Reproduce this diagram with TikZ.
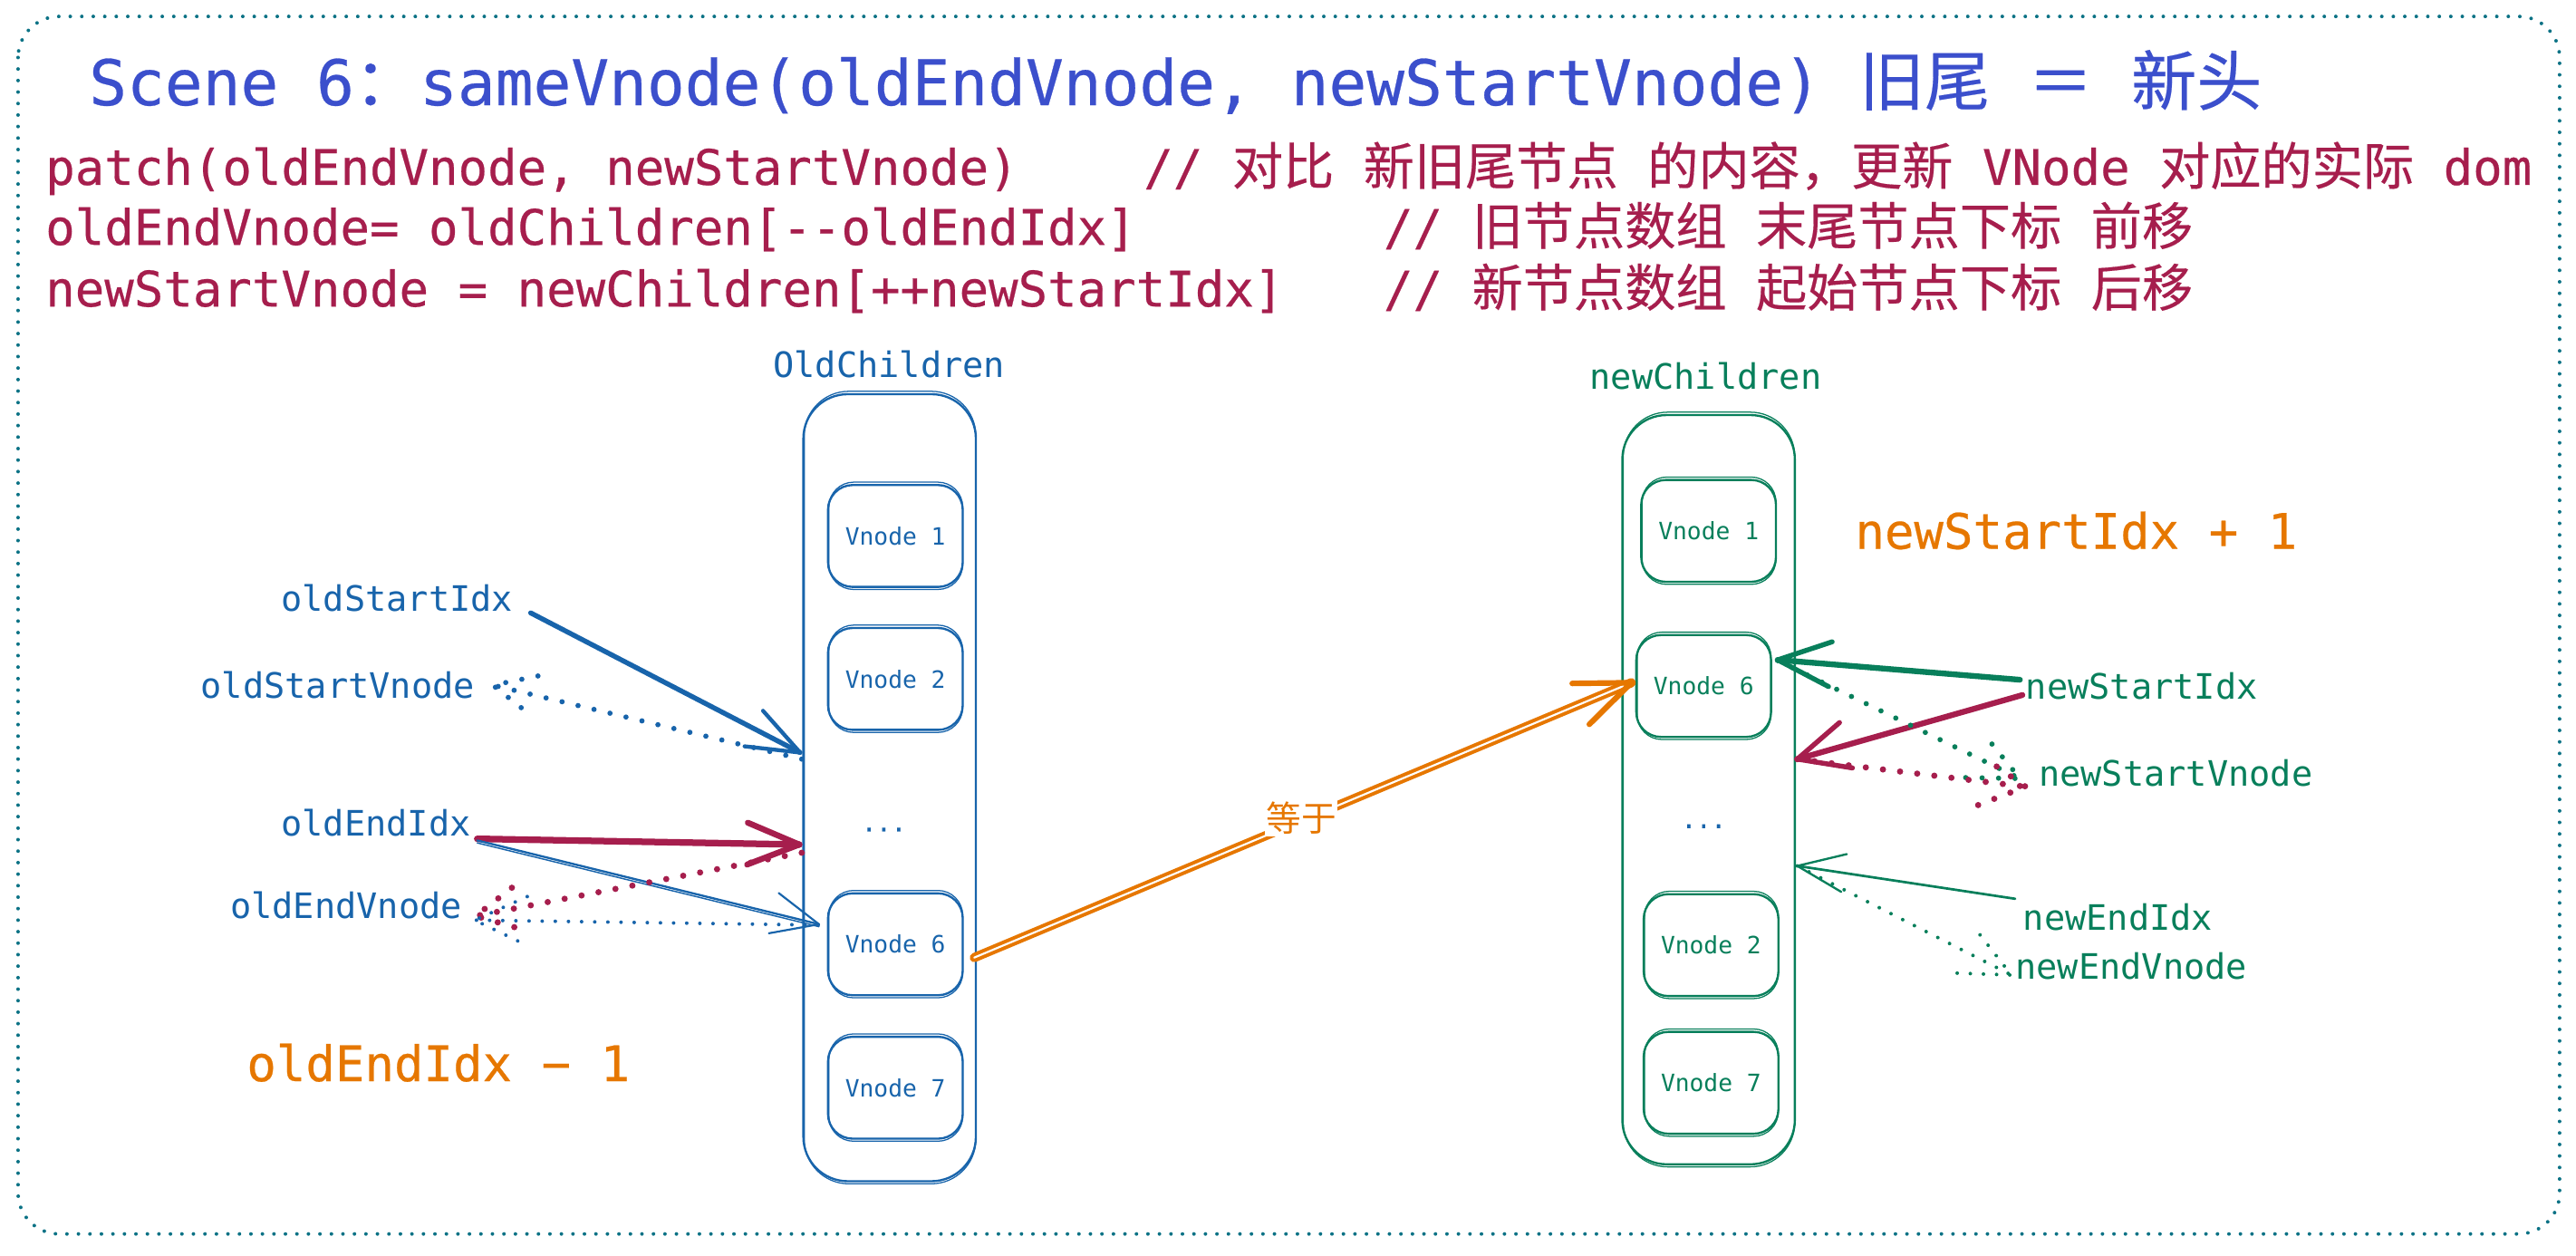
\documentclass[tikz,border=0pt]{standalone}
\usepackage{fontspec}
\setmainfont{DejaVu Sans Mono}
\newfontfamily\heavy{DejaVu Sans Mono}[FakeBold=0.4]
\newfontfamily\cjk{Noto Sans CJK SC}[Scale=1.04]
\newfontfamily\heavycjk{Noto Sans CJK SC}[Scale=1.04,FakeBold=0.3]
\usetikzlibrary{calc}
\newcommand\zh[1]{{\cjk #1}}
\newcommand\hz[1]{{\heavycjk #1}}
\newcommand\vh[5]{\draw[#5] ($(#1)!#3!#4:(#2)$) -- (#1) -- ($(#1)!#3!-#4:(#2)$);}
\newcommand\sk[3]{\draw[#3, line width=0.7pt, rounded corners=#2] ([shift={(1.2pt,-0.9pt)}]#1.south west) rectangle ([shift={(-0.7pt,1.1pt)}]#1.north east);}
\definecolor{tblue}{HTML}{3B4FCC}
\definecolor{crim}{HTML}{A61E4D}
\definecolor{oblue}{HTML}{1864AB}
\definecolor{ngreen}{HTML}{087F5B}
\definecolor{orng}{HTML}{E67700}
\definecolor{frm}{HTML}{0B7285}
\tikzset{
  code/.style={anchor=base west, inner sep=0pt, text=crim, font=\heavy\fontsize{29.8}{36}\selectfont},
  lbl/.style={anchor=base west, inner sep=0pt, font=\fontsize{21.3}{26}\selectfont},
  biglbl/.style={anchor=base west, inner sep=0pt, text=orng, font=\heavy\fontsize{29.8}{36}\selectfont},
  vbox/.style={draw, rounded corners=15pt, minimum width=82pt, minimum height=62pt, inner sep=0pt, line width=1.3pt, font=\fontsize{14.5}{17}\selectfont},
  cont/.style={draw, rounded corners=27pt, inner sep=0pt, line width=1.3pt},
  dts/.style={anchor=base, inner sep=0pt, text=oblue, font=\heavy\fontsize{15}{18}\selectfont},
  ln/.style={line cap=round, line join=round},
  dotthick/.style={line width=3.8pt, line cap=round, dash pattern=on 0pt off 10.5pt},
  dotmid/.style={line width=3.2pt, line cap=round, dash pattern=on 0pt off 10pt},
  dotthin/.style={line width=2.2pt, line cap=round, dash pattern=on 0pt off 8pt}
}
\begin{document}
\begin{tikzpicture}[x=1pt,y=-1pt]
\useasboundingbox (0,0) rectangle (1568,764);
% frame
\draw[frm, line width=2.2pt, line cap=round, dash pattern=on 0pt off 7pt, rounded corners=25pt] (11,10) rectangle (1558,751);
% title and code
\node[anchor=base west, inner sep=0pt, text=tblue, font=\heavy\fontsize{38.3}{46}\selectfont] (title) at (54,64)
  {Scene 6\hz{：}sameVnode(oldEndVnode, newStartVnode) \hz{旧尾} \hz{＝} \hz{新头}};
\node[code] (l1) at (27.5,112.5) {patch(oldEndVnode, newStartVnode)};
\node[code] (c1) at (696,112.5) {// \hz{对比} \hz{新旧尾节点} \hz{的内容，更新} VNode \hz{对应的实际} dom};
\node[code] (l2) at (27.5,149) {oldEndVnode= oldChildren[-{}-oldEndIdx]};
\node[code] (c2) at (842,149) {// \hz{旧节点数组} \hz{末尾节点下标} \hz{前移}};
\node[code] (l3) at (27.5,186.5) {newStartVnode = newChildren[++newStartIdx]};
\node[code] (c3) at (842,186.5) {// \hz{新节点数组} \hz{起始节点下标} \hz{后移}};
% old children
\node[lbl, text=oblue] (oldch) at (470.5,229.5) {OldChildren};
\node[cont, oblue, minimum width=105pt, minimum height=479pt] (oc) at (541.5,479.4) {};
\sk{oc}{27pt}{oblue}
\node[vbox, oblue] (ov1) at (545,326.2) {Vnode 1}; \sk{ov1}{15pt}{oblue}
\node[vbox, oblue] (ov2) at (545,413.2) {Vnode 2}; \sk{ov2}{15pt}{oblue}
\node[dts] (odots) at (538,506) {...};
\node[vbox, oblue] (ov6) at (545,574.7) {Vnode 6}; \sk{ov6}{15pt}{oblue}
\node[vbox, oblue] (ov7) at (545,662) {Vnode 7}; \sk{ov7}{15pt}{oblue}
% new children
\node[lbl, text=ngreen] (newch) at (967.5,237) {newChildren};
\node[cont, ngreen, minimum width=105pt, minimum height=456pt] (nc) at (1040,480.6) {};
\sk{nc}{27pt}{ngreen}
\node[vbox, ngreen] (nv1) at (1040,323.1) {Vnode 1}; \sk{nv1}{15pt}{ngreen}
\node[vbox, ngreen] (nv6) at (1037,417.5) {Vnode 6}; \sk{nv6}{15pt}{ngreen}
\node[dts] (ndots) at (1037,504) {...};
\node[vbox, ngreen] (nv2) at (1041.5,575.2) {Vnode 2}; \sk{nv2}{15pt}{ngreen}
\node[vbox, ngreen] (nv7) at (1041.5,659) {Vnode 7}; \sk{nv7}{15pt}{ngreen}
% labels
\node[lbl, text=oblue] (osi) at (171,372) {oldStartIdx};
\node[lbl, text=oblue] (osv) at (122,425) {oldStartVnode};
\node[lbl, text=oblue] (oei) at (171,509) {oldEndIdx};
\node[lbl, text=oblue] (oev) at (140,559) {oldEndVnode};
\node[biglbl] (oem) at (150,658) {oldEndIdx − 1};
\node[biglbl] (nsp) at (1129,334) {newStartIdx + 1};
\node[lbl, text=ngreen] (nsi) at (1233,425.5) {newStartIdx};
\node[lbl, text=ngreen] (nsv) at (1240.8,478.7) {newStartVnode};
\node[lbl, text=ngreen] (nei) at (1231.3,566) {newEndIdx};
\node[lbl, text=ngreen] (nev) at (1226.6,596) {newEndVnode};
% connector end points
\coordinate (a1s) at (323,373);     \coordinate (a1t) at (487,458);
\coordinate (a2s) at (488,462);     \coordinate (a2t) at (300,417);
\coordinate (a3s) at (290.5,510.5); \coordinate (a3t) at (486.5,514);
\coordinate (a4s) at (290.5,511.5); \coordinate (a4t) at (498.5,562.5);
\coordinate (a5s) at (488,519);     \coordinate (a5t) at (289.5,557.5);
\coordinate (a6s) at (498,563);     \coordinate (a6t) at (289,560);
\coordinate (a7s) at (593,582.8);   \coordinate (a7t) at (993,415.5);
\coordinate (a8s) at (1229.5,413.7); \coordinate (a8t) at (1082,401.6);
\coordinate (a9s) at (1231,423);    \coordinate (a9t) at (1094,462);
\coordinate (a10s) at (1082,402);   \coordinate (a10t) at (1229.5,473.8);
\coordinate (a11s) at (1094,462);   \coordinate (a11t) at (1233,478.8);
\coordinate (a12s) at (1226.6,547); \coordinate (a12t) at (1094,527);
\coordinate (a13s) at (1094,527);   \coordinate (a13t) at (1224.3,593.4);
% old side arrows
\draw[ln, oblue, line width=3pt] (a1s) -- (a1t); \vh{a1t}{a1s}{34pt}{21}{ln, oblue, line width=2.4pt}
\draw[oblue, dotmid] (a2s) -- (a2t); \vh{a2t}{a2s}{28pt}{25}{oblue, dotmid}
\draw[ln, crim, line width=4pt] (a3s) -- (a3t); \vh{a3t}{a3s}{34pt}{22}{ln, crim, line width=3.6pt}
\draw[ln, oblue, line width=1.3pt] (a4s) -- (a4t);
\draw[ln, oblue, line width=0.8pt] ([yshift=-1.5pt]a4s) -- ([yshift=-1.5pt]a4t);
\vh{a4t}{a4s}{31pt}{24}{ln, oblue, line width=1.2pt}
\draw[crim, dotthick] (a5s) -- (a5t); \vh{a5t}{a5s}{28pt}{27}{crim, dotthick}
\draw[oblue, dotthin] (a6s) -- (a6t); \vh{a6t}{a6s}{35pt}{25}{oblue, dotthin}
% orange equality arrow
\draw[ln, orng, line width=2.2pt, double=white, double distance=1.2pt] (a7s) -- (a7t);
\vh{a7t}{a7s}{36pt}{22}{ln, orng, line width=3.4pt}
\node[fill=white, inner sep=1pt, text=orng, font=\cjk\fontsize{20.5}{25}\selectfont] (eq) at (792,498) {等于};
% new side arrows
\draw[ln, ngreen, line width=3.5pt] (a8s) -- (a8t); \vh{a8t}{a8s}{35pt}{23}{ln, ngreen, line width=3pt}
\draw[ln, crim, line width=3.5pt] (a9s) -- (a9t); \vh{a9t}{a9s}{34pt}{25}{ln, crim, line width=3pt}
\draw[ngreen, dotmid] (a10s) -- (a10t); \vh{a10t}{a10s}{33pt}{25}{ngreen, dotmid}
\draw[crim, dotthick] (a11s) -- (a11t); \vh{a11t}{a11s}{31pt}{28}{crim, dotthick}
\draw[ln, ngreen, line width=1.5pt] (a12s) -- (a12t); \vh{a12t}{a12s}{31pt}{22}{ln, ngreen, line width=1.3pt}
\draw[ngreen, dotthin] (a13s) -- (a13t); \vh{a13t}{a13s}{33pt}{25}{ngreen, dotthin}
\end{tikzpicture}
\end{document}
